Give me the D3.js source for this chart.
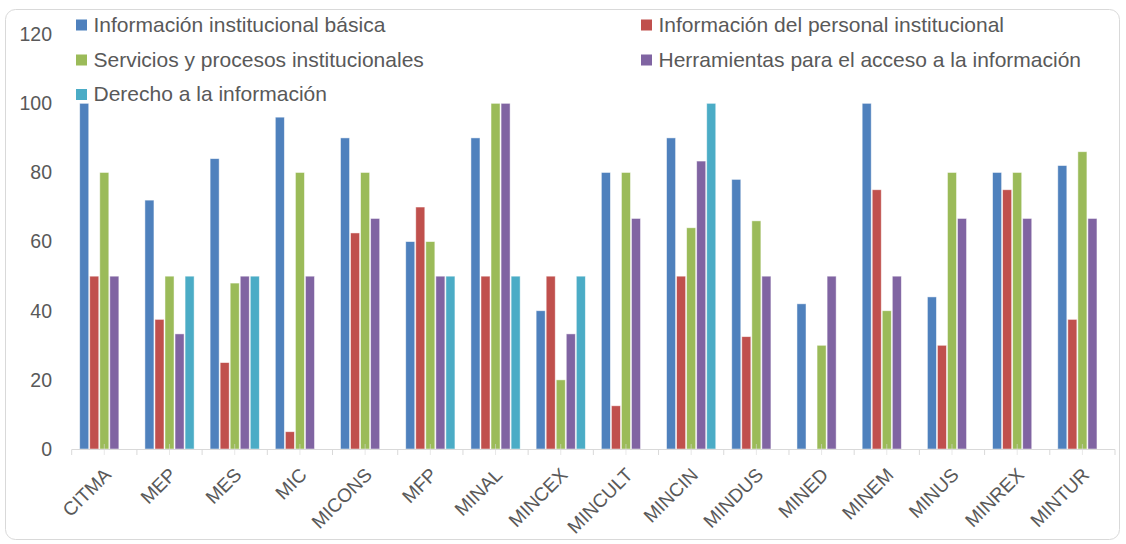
<!DOCTYPE html>
<html>
<head>
<meta charset="utf-8">
<script src="https://cdn.jsdelivr.net/npm/d3@7"></script>
<style>
html,body{margin:0;padding:0;background:#fff;}
svg{display:block;}
</style>
</head>
<body>
<svg id="chart" width="1126" height="544"></svg>
<script>
const categories = ["CITMA","MEP","MES","MIC","MICONS","MFP","MINAL","MINCEX","MINCULT","MINCIN","MINDUS","MINED","MINEM","MINUS","MINREX","MINTUR"];
const seriesNames = ["Información institucional básica","Información del personal institucional","Servicios y procesos institucionales","Herramientas para el acceso a la información","Derecho a la información"];
const basica      = [100,72,84,96,90,60,90,40,80,90,78,42,100,44,80,82];
const personal    = [50,37.5,25,5,62.5,70,50,50,12.5,50,32.5,0,75,30,75,37.5];
const servicios   = [80,50,48,80,80,60,100,20,80,64,66,30,40,80,80,86];
const herramientas= [50,33.3,50,50,66.7,50,100,33.3,66.7,83.3,50,50,50,66.7,66.7,66.7];
const derecho     = [0,50,50,0,0,50,50,50,0,100,0,0,0,0,0,0];
const yTicks = [0,20,40,60,80,100,120];
const colors = ["#4F81BD","#C0504D","#9BBB59","#8064A2","#4BACC6"];

const seriesValues = [basica, personal, servicios, herramientas, derecho];
const svg = d3.select("#chart");
const font = "'Liberation Sans', Arial, sans-serif";
const textColor = "#595959";

// frame
svg.append("rect").attr("x",5.5).attr("y",9.5).attr("width",1114).attr("height",530)
  .attr("rx",10).attr("fill","#fff").attr("stroke","#d9d9d9").attr("stroke-width",1);

const x0 = d3.scaleBand().domain(categories).range([71.7,1115]).paddingInner(0).paddingOuter(0);
const bw = x0.bandwidth();
const x1 = d3.scaleBand().domain(d3.range(5)).range([bw*0.115, bw*0.885]).padding(0);
const y = d3.scaleLinear().domain([0,120]).range([449,34.2]);

// bars
const g = svg.append("g");
categories.forEach((c,ci)=>{
  seriesValues.forEach((vals,si)=>{
    const v = vals[ci];
    if(!v) return;
    g.append("rect")
      .attr("x", x0(c)+x1(si)+0.5)
      .attr("y", y(v))
      .attr("width", x1.bandwidth()-1)
      .attr("height", y(0)-y(v))
      .attr("fill", colors[si])
      .attr("stroke","#ffffff").attr("stroke-opacity",0.6).attr("stroke-width",0.8);
  });
});

// x axis line & ticks
const ax = svg.append("g").attr("stroke","#d9d9d9").attr("stroke-width",1);
ax.append("line").attr("x1",71.7).attr("x2",1115).attr("y1",449.5).attr("y2",449.5);
const bounds = categories.map(c=>x0(c)).concat([x0(categories[categories.length-1])+bw]);
bounds.forEach(b=>{
  ax.append("line").attr("x1",b).attr("x2",b).attr("y1",449.5).attr("y2",455);
});
categories.forEach(c=>{
  const cx = x0(c)+bw/2;
  ax.append("line").attr("x1",cx).attr("x2",cx).attr("y1",444).attr("y2",455).attr("stroke-opacity",0.6);
});

// y tick labels
svg.append("g").selectAll("text").data(yTicks).join("text")
  .attr("x",52).attr("y",d=>y(d)).attr("dy","0.35em")
  .attr("text-anchor","end").attr("font-family",font).attr("font-size",19.5)
  .attr("fill",textColor).text(d=>d);

// x labels
svg.append("g").selectAll("text").data(categories).join("text")
  .attr("transform",d=>`translate(${x0(d)+bw/2+8},${476}) rotate(-45)`)
  .attr("text-anchor","end").attr("font-family",font).attr("font-size",19)
  .attr("fill",textColor).text(d=>d);

// legend
const legPos = [
  {x:76, y:24.5},{x:641, y:24.5},{x:76, y:59.5},{x:641, y:59.5},{x:76, y:94}
];
seriesNames.forEach((n,i)=>{
  const p = legPos[i];
  svg.append("rect").attr("x",p.x).attr("y",p.y-5).attr("width",11).attr("height",11).attr("fill",colors[i]);
  svg.append("text").attr("x",p.x+17.5).attr("y",p.y).attr("dy","0.35em")
    .attr("font-family",font).attr("font-size",21).attr("fill",textColor).text(n);
});
</script>
</body>
</html>
